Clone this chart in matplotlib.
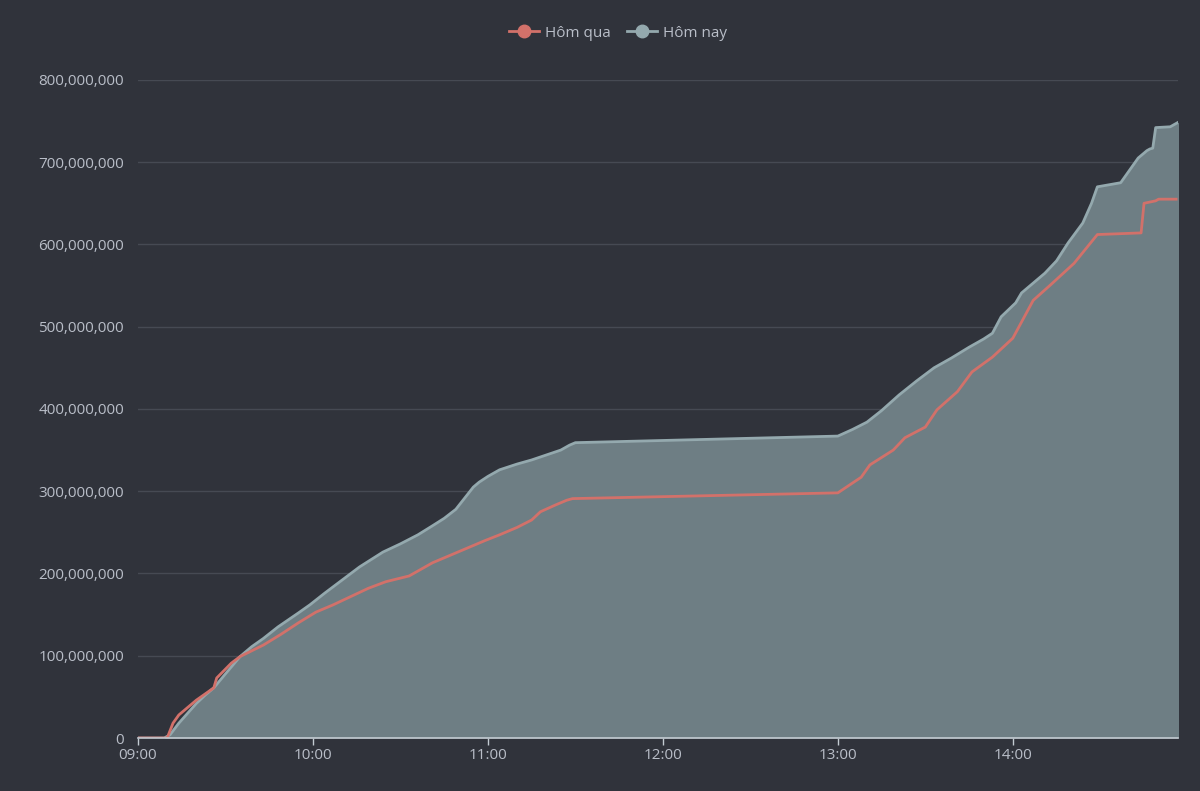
import pandas as pd
import matplotlib.pyplot as plt
import matplotlib.dates as mdates
from matplotlib.ticker import FuncFormatter, MultipleLocator
from matplotlib.lines import Line2D

plt.rcParams['font.family'] = ['Open Sans', 'DejaVu Sans']

# Hôm nay (today) - cumulative value, millions
today_time = ['09:00', '09:09', '09:11', '09:14', '09:17', '09:20', '09:23', '09:26', '09:30',
              '09:35', '09:39', '09:43', '09:48', '09:55', '09:59', '10:04', '10:10',
              '10:16', '10:20', '10:24', '10:30', '10:36', '10:41', '10:45', '10:49',
              '10:51', '10:55', '10:57', '11:00', '11:04', '11:10', '11:15', '11:20',
              '11:25', '11:28', '11:30', '13:00', '13:05', '13:10', '13:15', '13:21',
              '13:27', '13:33', '13:39', '13:45', '13:50', '13:53', '13:56', '14:01',
              '14:03', '14:07', '14:11', '14:15', '14:19', '14:24', '14:27', '14:29',
              '14:37', '14:40', '14:43', '14:46', '14:47', '14:48', '14:49', '14:54',
              '14:57']
today_val = [0, 0, 4, 18, 30, 42, 52, 61, 78,
             99, 111, 121, 135, 152, 162, 176, 192,
             208, 217, 226, 236, 247, 258, 267, 278,
             287, 305, 311, 318, 326, 333, 338, 344,
             350, 356, 359, 367, 375, 384, 398, 417,
             434, 450, 462, 475, 485, 492, 512, 529,
             541, 553, 565, 580, 602, 626, 650, 670,
             675, 690, 705, 714, 716, 717, 742, 743,
             749]

# Hôm qua (yesterday), millions
yest_time = ['09:00', '09:10', '09:12', '09:14', '09:20', '09:26', '09:27', '09:32',
             '09:35', '09:43', '09:49', '09:55', '10:01', '10:07', '10:13', '10:19',
             '10:25', '10:33', '10:41', '10:47', '10:53', '10:59', '11:04', '11:10',
             '11:15', '11:18', '11:23', '11:27', '11:29', '13:00', '13:08', '13:11',
             '13:19', '13:23', '13:30', '13:34', '13:41', '13:46', '13:53', '14:00',
             '14:07', '14:13', '14:21', '14:29', '14:44', '14:45', '14:49', '14:50',
             '14:56']
yest_val = [0, 0, 18, 28, 46, 61, 73, 91,
            99, 113, 126, 140, 153, 162, 172, 182,
            190, 197, 213, 222, 231, 240, 247, 256,
            265, 275, 283, 289, 291, 298, 317, 332,
            350, 365, 378, 399, 421, 445, 463, 486,
            532, 551, 577, 612, 614, 650, 653, 655,
            655]

day = '2024-01-01 '
t_today = pd.to_datetime([day + t for t in today_time])
v_today = [v * 1e6 for v in today_val]
t_yest = pd.to_datetime([day + t for t in yest_time])
v_yest = [v * 1e6 for v in yest_val]

bg = '#30333b'
text_col = '#b9bec8'
red = '#d2716a'
gray_line = '#94a9ae'
fill_col = '#6e7e84'

fig = plt.figure(figsize=(12, 7.91), dpi=100, facecolor=bg)
ax = fig.add_axes([0.115, 0.067, 0.8667, 0.832])
ax.set_facecolor(bg)

ax.fill_between(t_today, v_today, 0, color=fill_col, lw=0, zorder=2)
ax.plot(t_today, v_today, color=gray_line, lw=2, zorder=3, label='Hôm nay')
ax.plot(t_yest, v_yest, color=red, lw=2, zorder=4, label='Hôm qua')

ax.set_xlim(pd.Timestamp(day + '09:00'), pd.Timestamp(day + '14:56:40'))
ax.set_ylim(0, 800e6)

ax.yaxis.set_major_locator(MultipleLocator(100e6))
ax.yaxis.set_major_formatter(FuncFormatter(lambda v, p: f'{int(v):,}'))
ax.xaxis.set_major_locator(mdates.HourLocator())
ax.xaxis.set_major_formatter(mdates.DateFormatter('%H:%M'))

ax.grid(axis='y', color='#464a53', lw=1, zorder=1)
for s in ['top', 'right', 'left']:
    ax.spines[s].set_visible(False)
ax.spines['bottom'].set_color('#c3cbd2')
ax.spines['bottom'].set_linewidth(1.2)
ax.spines['bottom'].set_zorder(5)
ax.tick_params(axis='y', length=0, pad=10, labelcolor=text_col, labelsize=11)
ax.tick_params(axis='x', length=5, width=1, color='#c3cbd2', pad=2,
               labelcolor=text_col, labelsize=11)

handles = [Line2D([], [], color=red, lw=2, marker='o', markersize=9),
           Line2D([], [], color=gray_line, lw=2, marker='o', markersize=9)]
fig.legend(handles, ['Hôm qua', 'Hôm nay'], loc='center', bbox_to_anchor=(0.515, 0.958),
           ncol=2, frameon=False, labelcolor=text_col, fontsize=11,
           handlelength=2.0, handletextpad=0.4, columnspacing=1.0)

fig.savefig('out.png', dpi=100, facecolor=bg)
